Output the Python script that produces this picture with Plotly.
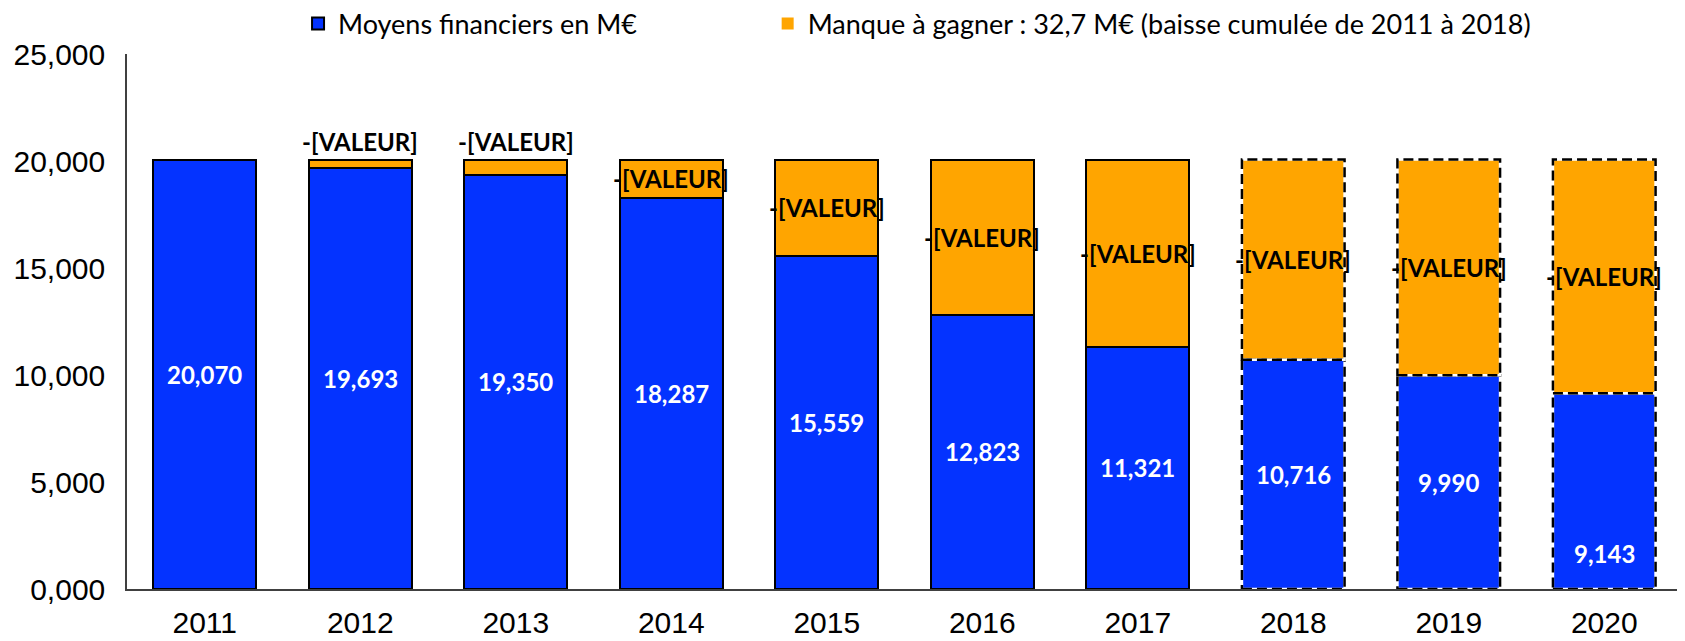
import plotly.graph_objects as go

years = ["2011", "2012", "2013", "2014", "2015", "2016", "2017", "2018", "2019", "2020"]
moyens = [20.070, 19.693, 19.350, 18.287, 15.559, 12.823, 11.321, 10.716, 9.990, 9.143]
reference = 20.070
manque = [round(reference - v, 3) for v in moyens]
manque_labels = ["", "-[VALEUR]", "-[VALEUR]", "-[VALEUR]", "-[VALEUR]", "-[VALEUR]",
                 "-[VALEUR]", "-[VALEUR]", "-[VALEUR]", "-[VALEUR]"]
projected = [False] * 7 + [True] * 3

BLUE = "#0433FF"
ORANGE = "#FFA500"
LABEL_FONT = "Lato"
BAR_W = 0.66

xpos = list(range(len(years)))
solid_w = [0 if p else 2 for p in projected]
orange_w = [0 if (p or m == 0) else 2 for p, m in zip(projected, manque)]

fig = go.Figure()
fig.add_trace(go.Bar(
    x=xpos, y=moyens, name="Moyens financiers en M€",
    marker=dict(color=BLUE, line=dict(color="black", width=solid_w)),
    width=BAR_W, hoverinfo="skip", legend="legend",
))
fig.add_trace(go.Bar(
    x=xpos, y=manque, name="Manque à gagner : 32,7 M€ (baisse cumulée de 2011 à 2018)",
    marker=dict(color=ORANGE, line=dict(color="black", width=orange_w)),
    width=BAR_W, hoverinfo="skip", legend="legend2",
))

annotations = []
for i, (v, m, lab) in enumerate(zip(moyens, manque, manque_labels)):
    annotations.append(dict(
        x=i, y=v / 2, text=f"{v:.3f}".replace(".", ","), showarrow=False,
        font=dict(family=LABEL_FONT, size=24, color="white", weight="bold"),
        yshift=-62 if i == len(years) - 1 else 0,
    ))
    if lab:
        if m < 1.0:
            annotations.append(dict(
                x=i, y=v + m, text=lab, showarrow=False, yanchor="bottom", yshift=2,
                font=dict(family=LABEL_FONT, size=24, color="black", weight="bold"),
            ))
        else:
            annotations.append(dict(
                x=i, y=v + m / 2, text=lab, showarrow=False,
                font=dict(family=LABEL_FONT, size=24, color="black", weight="bold"),
            ))

shapes = []
for i, (v, m, p) in enumerate(zip(moyens, manque, projected)):
    if not p:
        continue
    for (a, b) in [(0, v), (v, v + m)]:
        for col, dash in [("white", "solid"), ("black", "10px,5px")]:
            shapes.append(dict(
                type="rect", xref="x", yref="y",
                x0=i - BAR_W / 2, x1=i + BAR_W / 2, y0=a, y1=b,
                line=dict(color=col, width=2.5, dash=dash),
                fillcolor="rgba(0,0,0,0)", layer="above",
            ))

legend_common = dict(
    orientation="h", xanchor="left", y=1.056, yanchor="middle",
    font=dict(family=LABEL_FONT, size=27, color="black"),
    bgcolor="rgba(0,0,0,0)",
)

# the page adds an 8px body margin, so the figure is offset by 8px
fig.update_layout(
    barmode="stack",
    width=1677, height=633,
    margin=dict(l=119, r=3, t=46, b=52, autoexpand=False),
    paper_bgcolor="white", plot_bgcolor="white",
    separators=", ",
    font=dict(family="Liberation Sans, Arial", color="black"),
    showlegend=True,
    legend=dict(x=0.11, **legend_common),
    legend2=dict(x=0.412, **legend_common),
    annotations=annotations,
    shapes=shapes,
    xaxis=dict(
        range=[-0.5, len(years) - 0.5], tickvals=xpos, ticktext=years,
        showline=True, linecolor="#404040", linewidth=1.5,
        showgrid=False, zeroline=False, ticks="",
        tickfont=dict(size=30, family="Liberation Sans"),
        ticklabelstandoff=6,
    ),
    yaxis=dict(
        range=[0, 25], dtick=5, tickformat=".3f",
        showline=True, linecolor="#404040", linewidth=1.5,
        showgrid=False, zeroline=False, ticks="",
        tickfont=dict(size=30, family="Liberation Sans"),
        ticklabelstandoff=14,
    ),
)

fig.write_html("out.html")
